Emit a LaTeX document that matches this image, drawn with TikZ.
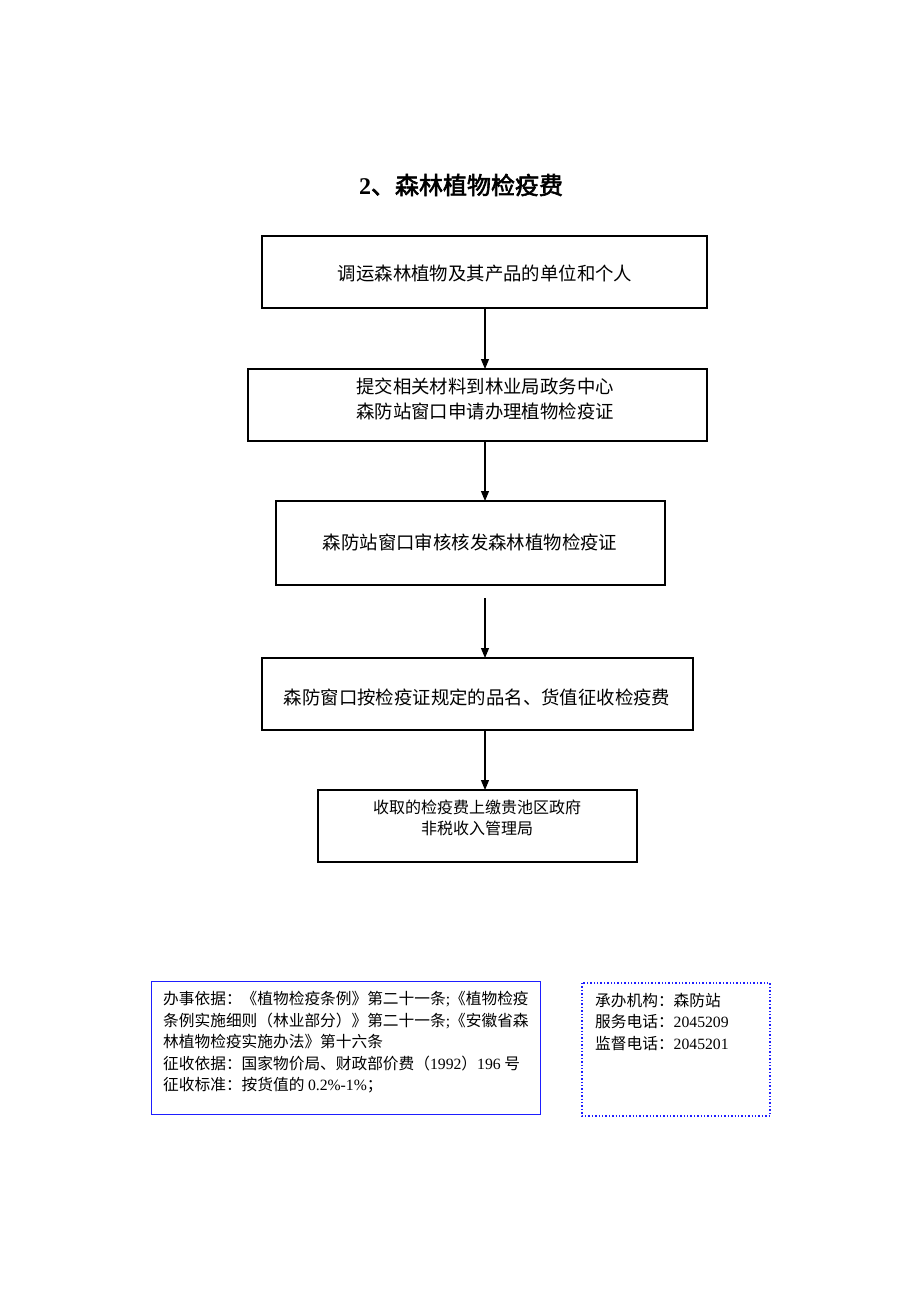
\documentclass[tikz,border=0pt]{standalone}
\usepackage{fontspec}
\setmainfont{Liberation Serif}
\newfontfamily\cjk{Noto Sans CJK SC}
\newfontfamily\cjkb{Noto Sans CJK SC}[FakeBold=2.5]
\newcommand{\lat}{\fontspec{Liberation Serif}}
\usetikzlibrary{arrows.meta}
\begin{document}
\begin{tikzpicture}[x=1pt,y=-1pt,
  flowbox/.style={draw=black,line width=1.1pt},
  flowarrow/.style={draw=black,line width=1.1pt,-{Triangle[length=10pt,width=8pt]}},
  boxtext/.style={font=\cjk\fontsize{18.4}{25}\selectfont,align=center,inner sep=0pt},
  smalltext/.style={font=\cjk\fontsize{15.7}{21.5}\selectfont,align=left,inner sep=0pt,anchor=north west}]
\useasboundingbox (0,0) rectangle (920,1302);
\fill[white] (0,0) rectangle (920,1302);
\node[font=\cjkb\fontsize{24}{28}\selectfont,inner sep=0pt] (title) at (461,185) {{\lat\bfseries 2}、森林植物检疫费};
% boxes
\draw[flowbox] (262,236) rectangle (707,308);
\node[boxtext] (b1) at (485,274) {调运森林植物及其产品的单位和个人};
\coordinate (b1s) at (485,308);
\draw[flowbox] (248,369) rectangle (707,441);
\node[boxtext] (b2) at (485,399) {提交相关材料到林业局政务中心\\森防站窗口申请办理植物检疫证};
\coordinate (b2n) at (485,369);
\coordinate (b2s) at (485,441);
\draw[flowbox] (276,501) rectangle (665,585);
\node[boxtext] (b3) at (470,542) {森防站窗口审核核发森林植物检疫证};
\coordinate (b3n) at (485,501);
\coordinate (b3s) at (485,598);
\draw[flowbox] (262,658) rectangle (693,730);
\node[boxtext] (b4) at (477,697) {森防窗口按检疫证规定的品名、货值征收检疫费};
\coordinate (b4n) at (485,658);
\coordinate (b4s) at (485,730);
\draw[flowbox] (318,790) rectangle (637,862);
\node[font=\cjk\fontsize{16}{21}\selectfont,align=center,inner sep=0pt] (b5) at (477,818) {收取的检疫费上缴贵池区政府\\非税收入管理局};
\coordinate (b5n) at (485,790);
% arrows
\draw[flowarrow] (b1s) -- (b2n);
\draw[flowarrow] (b2s) -- (b3n);
\draw[flowarrow] (b3s) -- (b4n);
\draw[flowarrow] (b4s) -- (b5n);
% bottom boxes
\draw[draw={rgb,255:red,30;green,30;blue,255},line width=1pt] (151,981) rectangle (540,1114);
\node[smalltext] (basis) at (163,991) {办事依据：《植物检疫条例》第二十一条{\lat;}《植物检疫\\条例实施细则（林业部分）》第二十一条{\lat;}《安徽省森\\林植物检疫实施办法》第十六条\\征收依据：国家物价局、财政部价费（{\lat 1992}）{\lat 196} 号\\征收标准：按货值的 {\lat 0.2\%-1\%}；};
\draw[draw={rgb,255:red,30;green,30;blue,255},line width=1.4pt,dotted] (582,983) rectangle (770,1116);
\node[smalltext] (contact) at (595,993) {承办机构：森防站\\服务电话：{\lat 2045209}\\监督电话：{\lat 2045201}};
\end{tikzpicture}
\end{document}
